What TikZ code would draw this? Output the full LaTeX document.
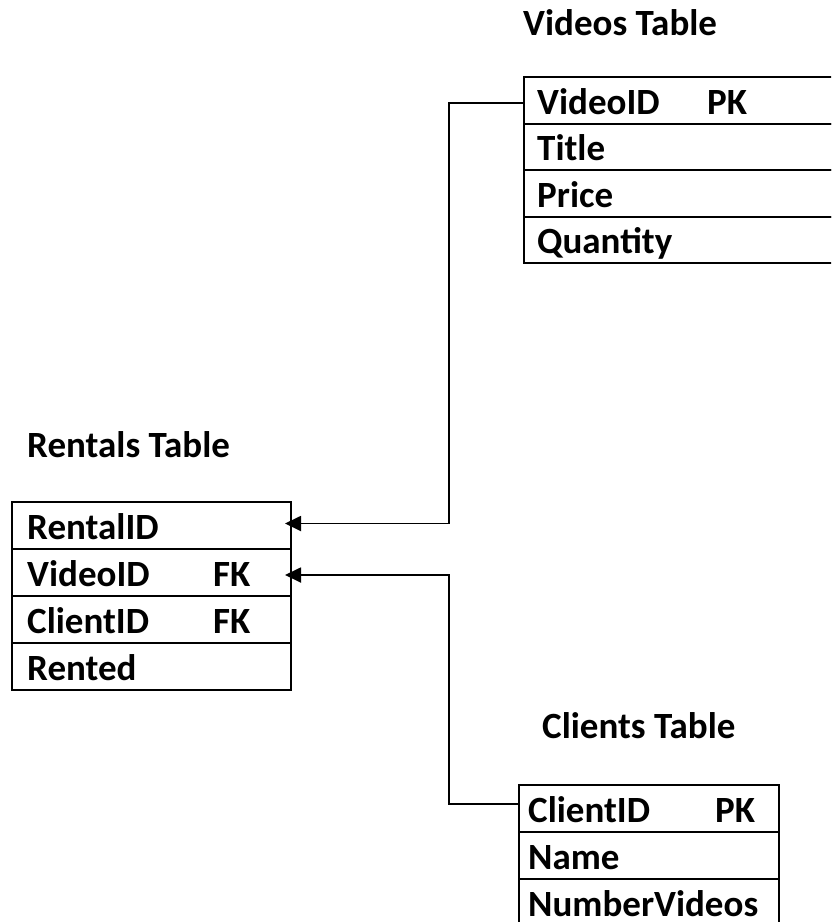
\documentclass[tikz,border=0pt]{standalone}
\usepackage{fontspec}
\setmainfont{Carlito}
\usetikzlibrary{arrows.meta}
\begin{document}
\begin{tikzpicture}[x=1pt,y=-1pt,
  cell/.style={draw, line width=2pt, anchor=north west, inner sep=0pt, minimum height=#1},
  field/.style={anchor=base west, inner sep=0pt, font=\bfseries\fontsize{37}{42}\selectfont},
  heading/.style={anchor=base west, inner sep=0pt, font=\bfseries\fontsize{37}{42}\selectfont},
  conn/.style={line width=1.8pt},
  fk/.style={conn, -{Triangle[length=16pt,width=15pt]}}]
\clip (0,0) rectangle (831,922);
% Videos table
\node[heading] (vt) at (523,35) {Videos Table};
\node[cell=46.5pt, minimum width=340pt] (v1) at (523,76) {};
\node[cell=46.5pt, minimum width=340pt] (v2) at (523,122.5) {};
\node[cell=46.5pt, minimum width=340pt] (v3) at (523,169) {};
\node[cell=46.5pt, minimum width=340pt] (v4) at (523,215.5) {};
\node[field] (v1t) at ([xshift=14pt,yshift=10.5pt]v1.south west) {VideoID};
\node[field] (v1k) at ([xshift=184pt,yshift=10.5pt]v1.south west) {PK};
\node[field] (v2t) at ([xshift=14pt,yshift=10.5pt]v2.south west) {Title};
\node[field] (v3t) at ([xshift=14pt,yshift=10.5pt]v3.south west) {Price};
\node[field] (v4t) at ([xshift=14pt,yshift=10.5pt]v4.south west) {Quantity};
% Rentals table
\node[heading] (rt) at (27,457) {Rentals Table};
\node[cell=47pt, minimum width=279pt] (r1) at (11,501) {};
\node[cell=47pt, minimum width=279pt] (r2) at (11,548) {};
\node[cell=47pt, minimum width=279pt] (r3) at (11,595) {};
\node[cell=47pt, minimum width=279pt] (r4) at (11,642) {};
\node[field] (r1t) at ([xshift=16pt,yshift=10.5pt]r1.south west) {RentalID};
\node[field] (r2t) at ([xshift=16pt,yshift=10.5pt]r2.south west) {VideoID};
\node[field] (r2k) at ([xshift=202pt,yshift=10.5pt]r2.south west) {FK};
\node[field] (r3t) at ([xshift=16pt,yshift=10.5pt]r3.south west) {ClientID};
\node[field] (r3k) at ([xshift=202pt,yshift=10.5pt]r3.south west) {FK};
\node[field] (r4t) at ([xshift=16pt,yshift=10.5pt]r4.south west) {Rented};
% Clients table
\node[heading] (ct) at (542,738) {Clients Table};
\node[cell=47pt, minimum width=260pt] (c1) at (518,784) {};
\node[cell=47pt, minimum width=260pt] (c2) at (518,831) {};
\node[cell=47pt, minimum width=260pt] (c3) at (518,878) {};
\node[field] (c1t) at ([xshift=10pt,yshift=10.5pt]c1.south west) {ClientID};
\node[field] (c1k) at ([xshift=197pt,yshift=10.5pt]c1.south west) {PK};
\node[field] (c2t) at ([xshift=10pt,yshift=10.5pt]c2.south west) {Name};
\node[field] (c3t) at ([xshift=10pt,yshift=10.5pt]c3.south west) {NumberVideos};
% connectors
\draw[fk] ([yshift=-3pt]v1.west) -- ++(-74,0) |- ([xshift=-7pt,yshift=2pt]r1.east);
\draw[fk] ([yshift=4.5pt]c1.west) -- ++(-69,0) |- ([xshift=-7pt,yshift=-2.5pt]r2.east);
\end{tikzpicture}
\end{document}
